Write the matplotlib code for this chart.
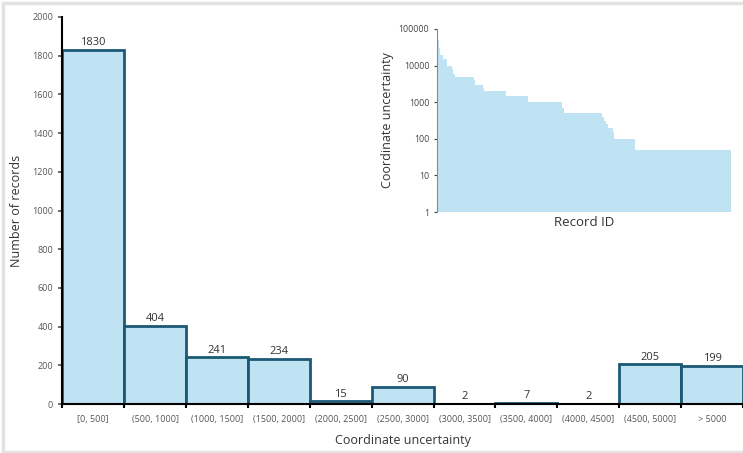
import numpy as np
import matplotlib
matplotlib.use("Agg")
import matplotlib.pyplot as plt
from matplotlib.lines import Line2D

plt.rcParams['font.family'] = ['Open Sans', 'DejaVu Sans']

# histogram data
bins = ['[0, 500]', '(500, 1000]', '(1000, 1500]', '(1500, 2000]', '(2000, 2500]',
        '(2500, 3000]', '(3000, 3500]', '(3500, 4000]', '(4000, 4500]', '(4500, 5000]',
        '> 5000']
counts = [1830, 404, 241, 234, 15, 90, 2, 7, 2, 205, 199]

# inset: sorted uncertainty runs (value, number of records)
run_values = [100000, 80000, 70000, 50000, 30000, 20000, 15000, 10000, 8000, 6000,
              5000, 4500, 4000, 3500, 3000, 2500, 2000, 1500, 1000, 700,
              500, 400, 300, 250, 200, 150, 100, 50]
run_counts = [4, 3, 7, 8, 12, 37, 44, 48, 18, 18,
              205, 2, 7, 2, 90, 15, 234, 241, 380, 24,
              414, 18, 26, 18, 55, 18, 231, 1050]

fill_c = '#c0e3f4'
edge_c = '#1b5a75'

fig = plt.figure(figsize=(7.43, 4.53), dpi=100)
ax = fig.add_axes([0.0838, 0.108, 0.9162, 0.8546])

x = np.arange(len(counts))
ax.bar(x, counts, width=1.0, align='edge', color=fill_c, edgecolor=edge_c, linewidth=2)
for i, c in enumerate(counts):
    ax.text(i + 0.5, c + 8, str(c), ha='center', va='bottom', fontsize=8, color='#333333')

ax.set_xlim(0, 10.96)
ax.set_ylim(0, 2000)
ax.set_yticks(np.arange(0, 2001, 200))
ax.tick_params(axis='y', labelsize=6.5, colors='#555555', length=3, width=1.2)
ax.set_xticks(np.arange(0, 12))
ax.set_xticklabels([])
ax.set_xticks(x + 0.5, minor=True)
ax.set_xticklabels(bins, minor=True)
ax.tick_params(axis='x', which='major', length=3, width=1.5, color='black')
ax.tick_params(axis='x', which='minor', length=0, labelsize=6.5, labelcolor='#555555', pad=8)
for s in ['top', 'right']:
    ax.spines[s].set_visible(False)
ax.spines['left'].set_linewidth(1.5)
ax.spines['bottom'].set_linewidth(1.5)
ax.set_ylabel('Number of records', fontsize=9, color='#333333', labelpad=7)
ax.set_xlabel('Coordinate uncertainty', fontsize=9, color='#333333', labelpad=7)

# inset
ins = fig.add_axes([0.588, 0.532, 0.396, 0.404])
edges = np.concatenate([[0], np.cumsum(run_counts)])
vals = run_values + [run_values[-1]]
ins.fill_between(edges, 1, vals, step='post', color=fill_c, linewidth=0)
ins.set_yscale('log')
ins.set_ylim(1, 100000)
ins.set_xlim(0, edges[-1])
ticks = [1, 10, 100, 1000, 10000, 100000]
ins.set_yticks(ticks)
ins.set_yticklabels([str(t) for t in ticks])
ins.minorticks_off()
ins.set_xticks([])
ins.tick_params(axis='y', labelsize=6.3, colors='#444444', length=2)
for s in ['top', 'right', 'bottom']:
    ins.spines[s].set_visible(False)
ins.spines['left'].set_color('#888888')
ins.patch.set_alpha(0)
ins.set_ylabel('Coordinate uncertainty', fontsize=9, color='#333333', labelpad=3)
ins.set_xlabel('Record ID', fontsize=9.5, color='#333333', labelpad=3)

# screenshot frame
fig.add_artist(Line2D([0.004, 0.004], [0, 0.994], color='#e3e3e3', linewidth=2.5))
fig.add_artist(Line2D([0.004, 1], [0.994, 0.994], color='#e3e3e3', linewidth=2.5))
fig.add_artist(Line2D([0.004, 1], [0.003, 0.003], color='#e3e3e3', linewidth=2.5))

fig.savefig('out.png', dpi=100)
